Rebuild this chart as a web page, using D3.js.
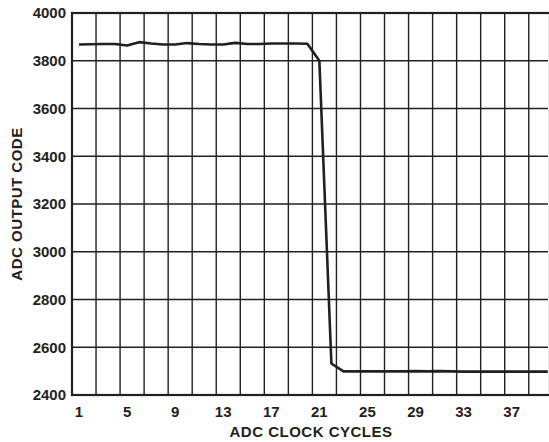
<!DOCTYPE html>
<html>
<head>
  <meta charset="UTF-8">
  <script src="https://d3js.org/d3.v7.min.js"></script>
  <style>
    body { margin: 0; background: #fff; }
    svg { display: block; font-family: 'Liberation Sans', Arial, Helvetica, sans-serif; font-weight: bold; }
    .tick-label { font-size: 15px; fill: #231f20; }
    .axis-title { font-size: 15px; fill: #231f20; letter-spacing: 0.5px; }
  </style>
</head>
<body>
  <div id="chart"></div>
  <script>
    // ADC clock cycles (x) and output codes (y)
    const cycles = [1, 2, 3, 4, 5, 6, 7, 8, 9, 10,
                    11, 12, 13, 14, 15, 16, 17, 18, 19, 20,
                    21, 22, 23, 24, 25, 26, 27, 28, 29, 30,
                    31, 32, 33, 34, 35, 36, 37, 38, 39, 40];
    const codes = [3868, 3869, 3870, 3870, 3864, 3878, 3872, 3868, 3868, 3874,
                   3870, 3868, 3868, 3875, 3870, 3870, 3872, 3872, 3872, 3871,
                   3800, 2532, 2499, 2499, 2499, 2499, 2499, 2499, 2500, 2499,
                   2500, 2499, 2498, 2498, 2498, 2498, 2498, 2498, 2498, 2498];

    const xTicks = [1, 5, 9, 13, 17, 21, 25, 29, 33, 37];
    const xGrid = [2.42, 4.42, 6.42, 8.42, 10.42, 12.42, 14.42, 16.42, 18.42, 20.42,
                   22.42, 24.42, 26.42, 28.42, 30.42, 32.42, 34.42, 36.42, 38.42];
    const yTicks = [2400, 2600, 2800, 3000, 3200, 3400, 3600, 3800, 4000];
    const yGrid = [2600, 2800, 3000, 3200, 3400, 3600, 3800];

    const width = 549, height = 442;
    const margin = { top: 13, right: 1, bottom: 47, left: 72 };
    const innerW = width - margin.left - margin.right;
    const innerH = height - margin.top - margin.bottom;
    const ink = '#231f20';

    const svg = d3.select('#chart')
      .append('svg')
      .attr('width', width)
      .attr('height', height);

    const g = svg.append('g')
      .attr('transform', `translate(${margin.left},${margin.top})`);

    const x = d3.scaleLinear().domain([0.42, 40]).range([0, 39.58 * 12.02]);
    const y = d3.scaleLinear().domain([2400, 4000]).range([innerH, 0]);

    // grid
    g.selectAll('.vgrid')
      .data(xGrid)
      .enter()
      .append('line')
      .attr('x1', d => x(d)).attr('x2', d => x(d))
      .attr('y1', 0).attr('y2', innerH)
      .attr('stroke', ink)
      .attr('stroke-width', 1.4);

    g.selectAll('.hgrid')
      .data(yGrid)
      .enter()
      .append('line')
      .attr('x1', 0).attr('x2', innerW)
      .attr('y1', d => y(d)).attr('y2', d => y(d))
      .attr('stroke', ink)
      .attr('stroke-width', 1.4);

    // frame
    g.append('rect')
      .attr('x', 0).attr('y', 0)
      .attr('width', innerW + 2).attr('height', innerH)
      .attr('fill', 'none')
      .attr('stroke', ink)
      .attr('stroke-width', 2.2);

    // data line
    const line = d3.line()
      .x((d, i) => x(cycles[i]))
      .y(d => y(d));

    g.append('path')
      .datum(codes)
      .attr('fill', 'none')
      .attr('stroke', ink)
      .attr('stroke-width', 2.6)
      .attr('stroke-linejoin', 'round')
      .attr('d', line);

    // tick labels
    g.selectAll('.xlab')
      .data(xTicks)
      .enter()
      .append('text')
      .attr('class', 'tick-label')
      .attr('x', d => x(d))
      .attr('y', innerH + 22)
      .attr('text-anchor', 'middle')
      .text(d => d);

    g.selectAll('.ylab')
      .data(yTicks)
      .enter()
      .append('text')
      .attr('class', 'tick-label')
      .attr('x', -6)
      .attr('y', d => y(d))
      .attr('dy', '0.36em')
      .attr('text-anchor', 'end')
      .text(d => d);

    // axis titles
    svg.append('text')
      .attr('class', 'axis-title')
      .attr('x', 311)
      .attr('y', 437)
      .attr('text-anchor', 'middle')
      .text('ADC CLOCK CYCLES');

    svg.append('text')
      .attr('class', 'axis-title')
      .attr('transform', `translate(22,${margin.top + innerH / 2}) rotate(-90)`)
      .attr('text-anchor', 'middle')
      .text('ADC OUTPUT CODE');
  </script>
</body>
</html>
